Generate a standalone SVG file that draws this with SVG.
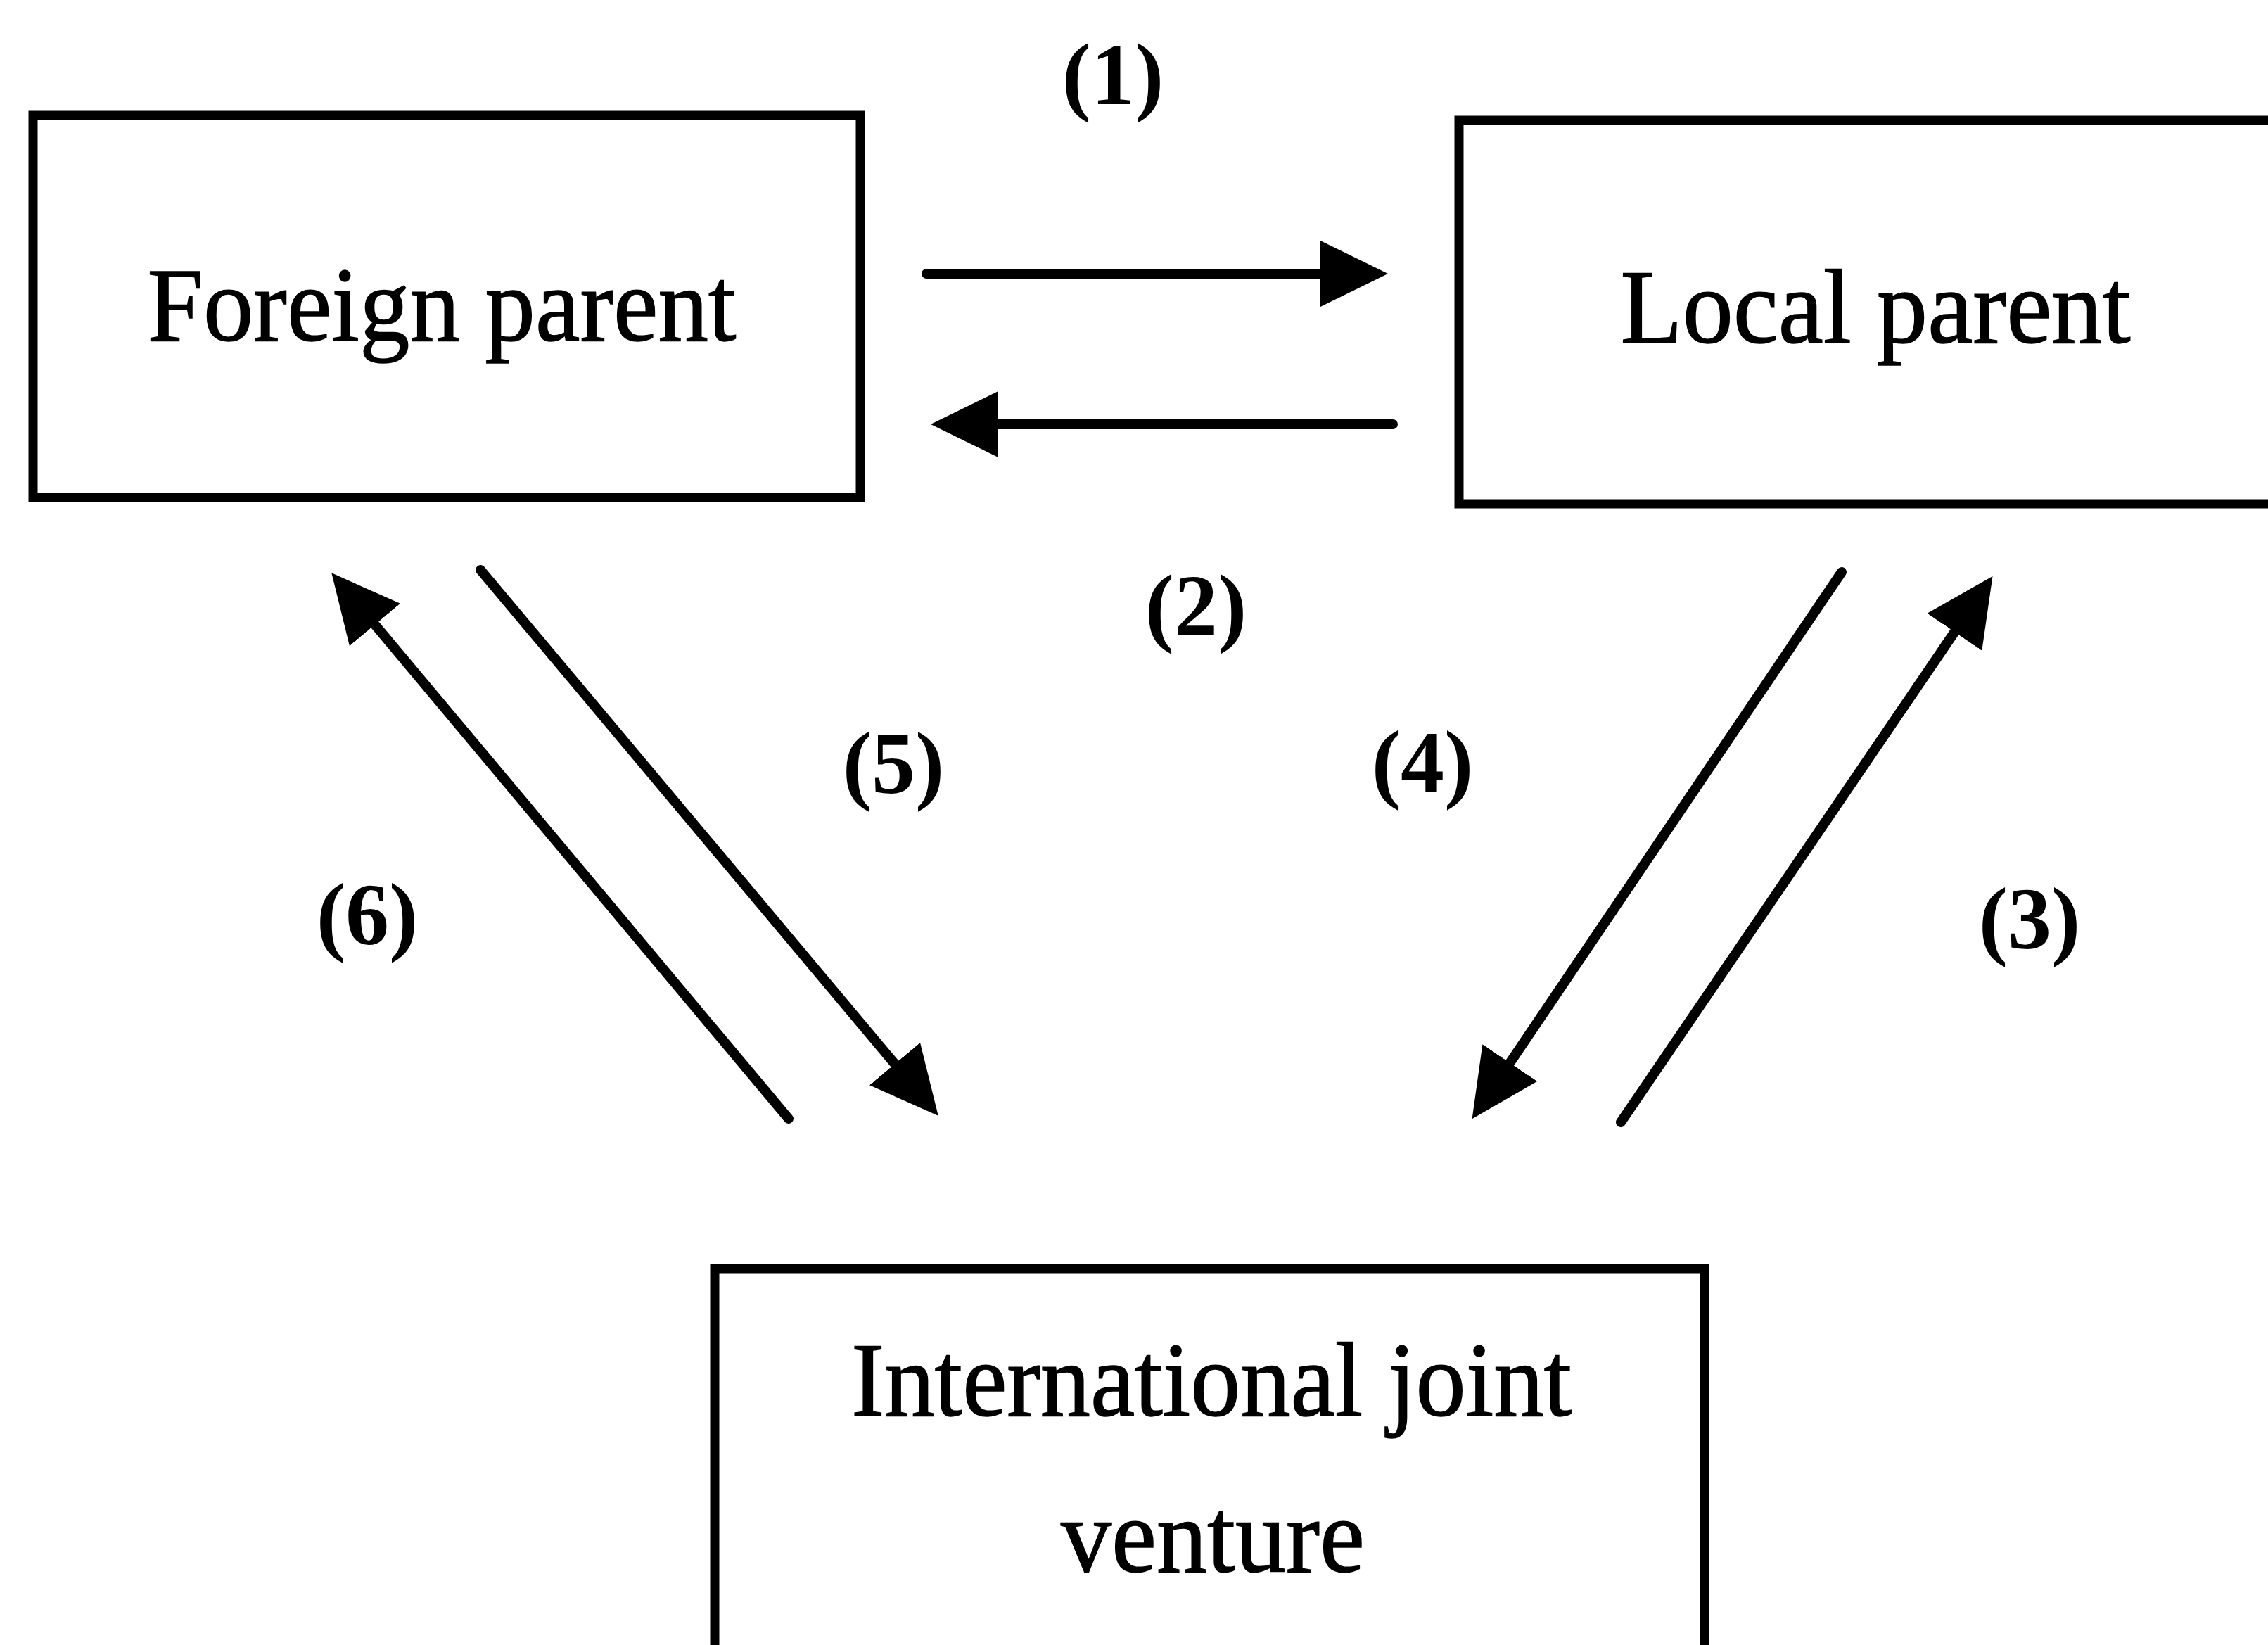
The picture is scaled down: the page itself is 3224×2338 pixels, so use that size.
<svg xmlns="http://www.w3.org/2000/svg" width="3224" height="2338" viewBox="0 0 3224 2338">
  <style>
    .box { fill: #ffffff; stroke: #000000; stroke-width: 13; }
    .label { font-family: "Liberation Serif", "Times New Roman", serif; font-size: 150px; fill: #000000; stroke: #000000; stroke-width: 1.5; text-anchor: middle; }
    .num { font-family: "Liberation Serif", "Times New Roman", serif; font-size: 124px; font-weight: bold; fill: #000000; text-anchor: middle; }
    .flow { fill: none; stroke: #000000; stroke-width: 14; stroke-linecap: round; marker-end: url(#head); }
  </style>
  <defs>
    <!-- solid triangular arrowhead; tip sits 40 units beyond the line end -->
    <marker id="head" viewBox="0 0 96 94" refX="56" refY="47" markerWidth="96" markerHeight="94" markerUnits="userSpaceOnUse" orient="auto">
      <path d="M0,0 L96,47 L0,94 Z" fill="#000000"/>
    </marker>
  </defs>

  <rect width="3224" height="2338" fill="#ffffff"/>

  <g id="foreign-parent">
    <rect class="box" x="47" y="164" width="1176" height="543"/>
    <text class="label" x="628" y="484" textLength="837" lengthAdjust="spacingAndGlyphs">Foreign parent</text>
  </g>

  <g id="local-parent">
    <rect class="box" x="2074" y="171" width="1200" height="545"/>
    <text class="label" x="2666" y="487" textLength="725" lengthAdjust="spacingAndGlyphs">Local parent</text>
  </g>

  <g id="joint-venture">
    <rect class="box" x="1016" y="1803" width="1407" height="700"/>
    <text class="label" x="1722" y="2012" textLength="1024" lengthAdjust="spacingAndGlyphs">International joint</text>
    <text class="label" x="1724" y="2234" textLength="432" lengthAdjust="spacingAndGlyphs">venture</text>
  </g>

  <g id="connectors">
    <!-- (1) foreign to local -->
    <line class="flow" x1="1317" y1="389" x2="1933" y2="389"/>
    <!-- (2) local to foreign -->
    <line class="flow" x1="1980" y1="603" x2="1363" y2="603"/>
    <!-- (5) foreign to joint venture -->
    <line class="flow" x1="683" y1="810" x2="1308" y2="1555"/>
    <!-- (6) joint venture to foreign -->
    <line class="flow" x1="1121" y1="1590" x2="497" y2="845"/>
    <!-- (4) local to joint venture -->
    <line class="flow" x1="2618" y1="813" x2="2115" y2="1557"/>
    <!-- (3) joint venture to local -->
    <line class="flow" x1="2304" y1="1595" x2="2810" y2="852"/>
  </g>

  <g id="flow-numbers">
    <text class="num" x="1582" y="148">(1)</text>
    <text class="num" x="1700" y="903">(2)</text>
    <text class="num" x="2885" y="1348">(3)</text>
    <text class="num" x="2022" y="1125">(4)</text>
    <text class="num" x="1270" y="1127">(5)</text>
    <text class="num" x="522" y="1342">(6)</text>
  </g>
</svg>
